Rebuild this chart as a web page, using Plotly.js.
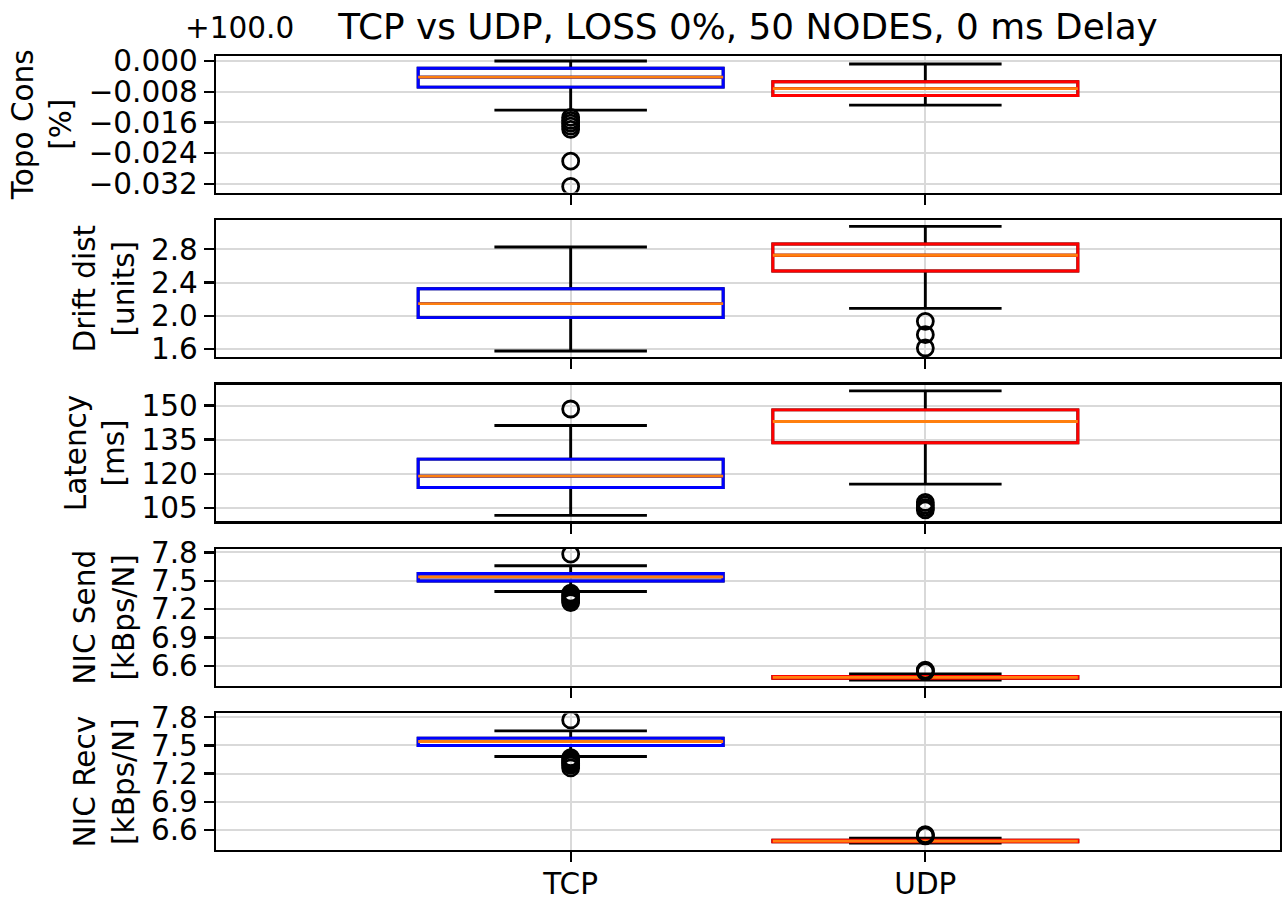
<!DOCTYPE html>
<html>
<head>
<meta charset="utf-8">
<script src="https://cdn.plot.ly/plotly-3.0.1.min.js"></script>
<style>html,body{margin:0;padding:0;background:#fff;}#chart{width:1282px;height:899px;}</style>
</head>
<body>
<div id="chart"></div>
<script>
// ---------------- data ----------------
const categories = ['TCP', 'UDP'];
const positions = [1, 2];
const boxColors = ['#0000ff', '#ff0000'];
const titleText = 'TCP vs UDP, LOSS 0%, 50 NODES, 0 ms Delay';
const offsetText = '+100.0';

// Topo Cons [%] (values shown as offset from 100.0)
const topoLabel = 'Topo Cons<br>[%]';
const topoQ1  = [-0.0068, -0.0090];
const topoMed = [-0.0042, -0.0072];
const topoQ3  = [-0.0019, -0.0054];
const topoLo  = [-0.0128, -0.0115];
const topoHi  = [0.0000, -0.0008];
const topoOutTCP = [-0.0147, -0.0155, -0.0162, -0.0170, -0.0178, -0.0261, -0.0327];
const topoOutUDP = [];

// Drift dist [units]
const driftLabel = 'Drift dist<br>[units]';
const driftQ1  = [1.977, 2.539];
const driftMed = [2.146, 2.728];
const driftQ3  = [2.326, 2.864];
const driftLo  = [1.576, 2.089];
const driftHi  = [2.828, 3.077];
const driftOutTCP = [];
const driftOutUDP = [1.933, 1.772, 1.612];

// Latency [ms]
const latLabel = 'Latency<br>[ms]';
const latQ1  = [113.9, 133.6];
const latMed = [118.9, 143.0];
const latQ3  = [126.4, 148.1];
const latLo  = [101.6, 115.4];
const latHi  = [141.2, 156.5];
const latOutTCP = [148.5];
const latOutUDP = [107.3, 106.2, 105.0, 104.0];

// NIC Send [kBps/N]
const sendLabel = 'NIC Send<br>[kBps/N]';
const sendQ1  = [7.498, 6.470];
const sendMed = [7.541, 6.478];
const sendQ3  = [7.577, 6.488];
const sendLo  = [7.386, 6.450];
const sendHi  = [7.658, 6.515];
const sendOutTCP = [7.782, 7.37, 7.35, 7.33, 7.31, 7.29, 7.27];
const sendOutUDP = [6.555, 6.545, 6.540];

// NIC Recv [kBps/N]
const recvLabel = 'NIC Recv<br>[kBps/N]';
const recvQ1  = [7.500, 6.472];
const recvMed = [7.543, 6.480];
const recvQ3  = [7.578, 6.489];
const recvLo  = [7.383, 6.459];
const recvHi  = [7.656, 6.512];
const recvOutTCP = [7.772, 7.37, 7.35, 7.33, 7.31, 7.29, 7.26];
const recvOutUDP = [6.550, 6.540, 6.535];

// ---------------- panel setup ----------------
const panels = [
  {label: topoLabel,  q1: topoQ1,  med: topoMed,  q3: topoQ3,  lo: topoLo,  hi: topoHi,  out: [topoOutTCP, topoOutUDP],
   range: [-0.0343, 0.0013], dtick: 0.008, fmt: '.3f'},
  {label: driftLabel, q1: driftQ1, med: driftMed, q3: driftQ3, lo: driftLo, hi: driftHi, out: [driftOutTCP, driftOutUDP],
   range: [1.504, 3.149], dtick: 0.4, fmt: '.1f'},
  {label: latLabel,   q1: latQ1,   med: latMed,   q3: latQ3,   lo: latLo,   hi: latHi,   out: [latOutTCP, latOutUDP],
   range: [99.0, 159.2], dtick: 15, fmt: 'd'},
  {label: sendLabel,  q1: sendQ1,  med: sendMed,  q3: sendQ3,  lo: sendLo,  hi: sendHi,  out: [sendOutTCP, sendOutUDP],
   range: [6.391, 7.835], dtick: 0.3, fmt: '.1f'},
  {label: recvLabel,  q1: recvQ1,  med: recvMed,  q3: recvQ3,  lo: recvLo,  hi: recvHi,  out: [recvOutTCP, recvOutUDP],
   range: [6.385, 7.842], dtick: 0.3, fmt: '.1f'}
];

const FONT = 'DejaVu Sans, Verdana, sans-serif';
const FS = 29.5;
const BOXW = 0.86;
const LW = 2.9;
const AXW = 2.3;
const GRID = '#d9d9d9';
const ORANGE = '#ff7f0e';

const traces = [];
const layout = {
  width: 1282, height: 899,
  margin: {l: 216, r: 2, t: 56, b: 49},
  paper_bgcolor: '#fff', plot_bgcolor: '#fff',
  showlegend: false,
  font: {family: FONT, size: FS, color: '#000'},
  title: {text: titleText, font: {family: FONT, size: 35.8, color: '#000'},
          x: 0.5, xref: 'paper', y: 1 - 26 / 899, yref: 'container', yanchor: 'middle'},
  boxmode: 'overlay',
  annotations: [{
    text: offsetText, xref: 'paper', yref: 'paper', x: -0.031, y: 1,
    xanchor: 'left', yanchor: 'middle', yshift: 28, showarrow: false,
    font: {family: FONT, size: FS, color: '#000'}
  }]
};

const n = panels.length;
const gapFrac = 27.75 / 794;
const hFrac = (1 - gapFrac * (n - 1)) / n;

panels.forEach((p, i) => {
  const sfx = i === 0 ? '' : String(i + 1);
  const xa = 'x' + sfx, ya = 'y' + sfx;
  const top = 1 - i * (hFrac + gapFrac);
  const bottom = Math.max(0, top - hFrac);

  // black whiskers & caps (full stats)
  traces.push({
    type: 'box', xaxis: xa, yaxis: ya, x: positions,
    q1: p.q1, median: p.med, q3: p.q3, lowerfence: p.lo, upperfence: p.hi,
    width: BOXW, whiskerwidth: 0.5, boxpoints: false,
    line: {color: '#000', width: LW}, fillcolor: 'rgba(0,0,0,0)', hoverinfo: 'skip'
  });
  // coloured boxes
  positions.forEach((pos, k) => {
    traces.push({
      type: 'box', xaxis: xa, yaxis: ya, x: [pos],
      q1: [p.q1[k]], median: [p.med[k]], q3: [p.q3[k]],
      lowerfence: [p.q1[k]], upperfence: [p.q3[k]],
      width: BOXW, whiskerwidth: 0, boxpoints: false,
      line: {color: boxColors[k], width: LW}, fillcolor: 'rgba(0,0,0,0)', hoverinfo: 'skip'
    });
  });
  // orange medians
  const mx = [], my = [];
  positions.forEach((pos, k) => {
    mx.push(pos - BOXW / 2, pos + BOXW / 2, null);
    my.push(p.med[k], p.med[k], null);
  });
  traces.push({type: 'scatter', mode: 'lines', xaxis: xa, yaxis: ya, x: mx, y: my,
    line: {color: ORANGE, width: LW}, hoverinfo: 'skip', connectgaps: false});
  // outliers
  const ox = [], oy = [];
  positions.forEach((pos, k) => {
    p.out[k].forEach(v => { ox.push(pos); oy.push(v); });
  });
  traces.push({type: 'scatter', mode: 'markers', xaxis: xa, yaxis: ya, x: ox, y: oy,
    marker: {symbol: 'circle', size: 16, color: 'rgba(0,0,0,0)', line: {color: '#000', width: 2.8}},
    hoverinfo: 'skip'});

  layout['xaxis' + sfx] = {
    domain: [0, 1], anchor: ya, range: [0, 3],
    tickvals: positions, ticktext: categories, showticklabels: i === n - 1,
    ticks: 'outside', ticklen: 10, tickwidth: AXW, tickcolor: '#000',
    ticklabelstandoff: -4,
    showgrid: true, gridcolor: GRID, gridwidth: 2,
    showline: true, linecolor: '#000', linewidth: AXW, mirror: true, zeroline: false,
    tickfont: {family: FONT, size: FS, color: '#000'}
  };
  layout['yaxis' + sfx] = {
    domain: [bottom, top], anchor: xa, range: p.range,
    tick0: 0, dtick: p.dtick, tickformat: p.fmt,
    ticks: 'outside', ticklen: 10, tickwidth: AXW, tickcolor: '#000',
    showgrid: true, gridcolor: GRID, gridwidth: 2,
    showline: true, linecolor: '#000', linewidth: AXW, mirror: true, zeroline: false,
    tickfont: {family: FONT, size: FS, color: '#000'},
    title: {text: p.label, font: {family: FONT, size: FS, color: '#000'}, standoff: 8}
  };
});

Plotly.newPlot('chart', traces, layout, {displayModeBar: false, staticPlot: true});
</script>
</body>
</html>
